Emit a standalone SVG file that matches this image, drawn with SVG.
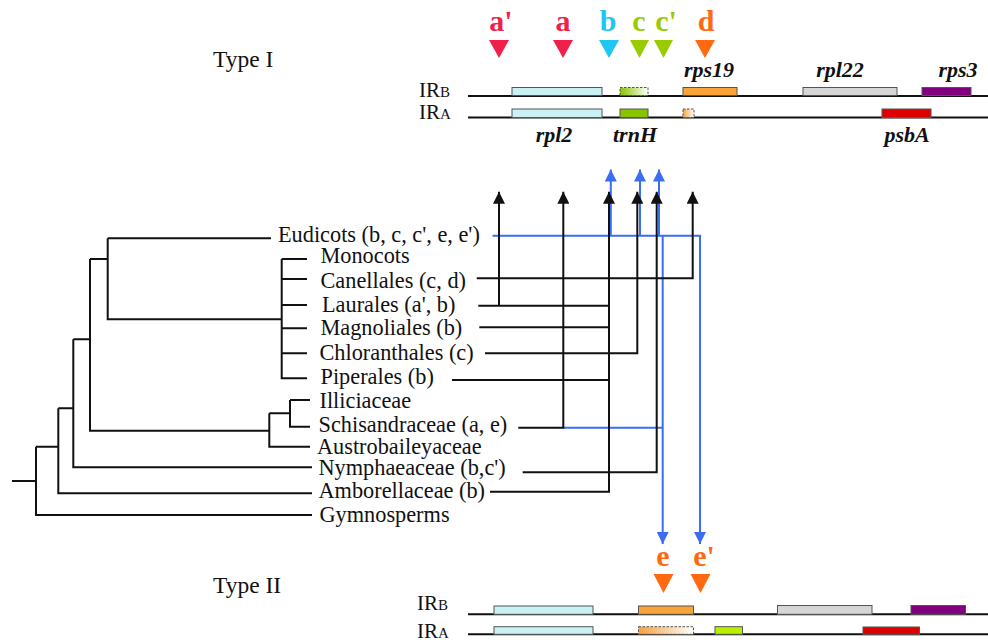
<svg xmlns="http://www.w3.org/2000/svg" width="988" height="643" viewBox="0 0 988 643">
<defs>
<style>
.tx{font-family:"Liberation Serif","Times New Roman",serif;fill:#111;}
.tax{font-size:22.3px;}
.type{font-size:23.5px;}
.gene{font-size:22px;font-weight:bold;font-style:italic;}
.site{font-size:30px;font-weight:bold;text-anchor:middle;font-family:"Liberation Serif","Times New Roman",serif;}
.ir{font-size:21px;}
.irs{font-size:15px;}
.tree{fill:none;stroke:#111;stroke-width:2;}
.bl{fill:none;stroke:#111;stroke-width:2;}
.blue{fill:none;stroke:#3a6cf4;stroke-width:2;}
.axis{stroke:#111;stroke-width:2;}
.box{stroke:#555;stroke-width:1;}
.dash{stroke:#555;stroke-width:1;stroke-dasharray:2.5,1.5;}
</style>
<marker id="ab" markerUnits="userSpaceOnUse" markerWidth="12" markerHeight="12" refX="12" refY="6" orient="auto">
<path d="M0,0 L12,6 L0,12 z" fill="#111"/>
</marker>
<marker id="au" markerUnits="userSpaceOnUse" markerWidth="12" markerHeight="12" refX="12" refY="6" orient="auto">
<path d="M0,0 L12,6 L0,12 z" fill="#3a6cf4"/>
</marker>
<linearGradient id="gG" x1="0" y1="0" x2="1" y2="0">
<stop offset="0" stop-color="#88c400"/><stop offset="1" stop-color="#ffffff"/>
</linearGradient>
<linearGradient id="gO" x1="0" y1="0" x2="1" y2="0">
<stop offset="0" stop-color="#f7a040"/><stop offset="1" stop-color="#ffffff"/>
</linearGradient>
</defs>
<rect width="988" height="643" fill="#fff"/>

<!-- Type I map -->
<g id="type1">
<text class="tx type" x="213" y="67">Type I</text>
<text class="tx" x="419" y="97"><tspan class="ir">IR</tspan><tspan class="irs">B</tspan></text>
<text class="tx" x="419" y="119"><tspan class="ir">IR</tspan><tspan class="irs">A</tspan></text>
<line class="axis" x1="468" y1="96" x2="988" y2="96"/>
<line class="axis" x1="468" y1="117.5" x2="988" y2="117.5"/>
<rect class="box" x="512" y="87.5" width="90" height="8" fill="#c9f0f2"/>
<rect class="dash" x="620" y="87.5" width="28" height="8" fill="url(#gG)"/>
<rect class="box" x="683" y="87.5" width="54" height="8" fill="#f9a43a"/>
<rect class="box" x="803" y="87.5" width="94" height="8" fill="#d6d6d6"/>
<rect class="box" x="922" y="87.5" width="49" height="8" fill="#80007e"/>
<rect class="box" x="512" y="109" width="90" height="8.5" fill="#c9f0f2"/>
<rect class="box" x="620" y="109" width="28" height="8.5" fill="#88c400"/>
<rect class="dash" x="683" y="109" width="11" height="8.5" fill="url(#gO)"/>
<rect class="box" x="882" y="109" width="49" height="8.5" fill="#dd0000"/>
<text class="tx gene" x="709" y="77" text-anchor="middle">rps19</text>
<text class="tx gene" x="840" y="77" text-anchor="middle">rpl22</text>
<text class="tx gene" x="958" y="77" text-anchor="middle">rps3</text>
<text class="tx gene" x="554" y="142" text-anchor="middle">rpl2</text>
<text class="tx gene" x="635" y="142" text-anchor="middle">trnH</text>
<text class="tx gene" x="907" y="142" text-anchor="middle">psbA</text>
</g>

<g id="sites1">
<text class="site" x="501" y="31" fill="#f0204a">a'</text>
<text class="site" x="563" y="31" fill="#f0204a">a</text>
<text class="site" x="608" y="31" fill="#1ec6f2">b</text>
<text class="site" x="639" y="31" fill="#99cc00">c</text>
<text class="site" x="666" y="31" fill="#99cc00">c'</text>
<text class="site" x="706" y="31" fill="#ff6a10">d</text>
<polygon points="489,40 509,40 499,58" fill="#f0204a"/>
<polygon points="553,40 573,40 563,58" fill="#f0204a"/>
<polygon points="599,40 619,40 609,58" fill="#1ec6f2"/>
<polygon points="630,40 649,40 639.5,58" fill="#99cc00"/>
<polygon points="654,40 673,40 663.5,58" fill="#99cc00"/>
<polygon points="695,40 715,40 705,58" fill="#ff6a10"/>
</g>

<!-- Tree -->
<g id="tree">
<path class="tree" d="M12,481 H36 M36,446.7 V515 H312 M36,446.7 H58.3 M58.3,408.3 V493.3 H312 M58.3,408.3 H73.3 M73.3,339.3 V467.3 H312 M73.3,339.3 H90 M90,259 V430.7 H269.3 M269.3,413.3 V446.7 H310 M269.3,413.3 H290 M290,400 V426.7 H310 M290,400 H310 M90,259 H107.7 M107.7,238.3 V319.3 H281.7 M107.7,238.3 H271 M281.7,259 V378.3 H307 M281.7,259 H307 M281.7,279 H307 M281.7,305 H307 M281.7,328.3 H307 M281.7,353.3 H307"/>
</g>
<g id="taxa">
<text class="tx tax" x="278" y="242">Eudicots (b, c, c', e, e')</text>
<text class="tx tax" x="320.5" y="263">Monocots</text>
<text class="tx tax" x="320.5" y="288">Canellales (c, d)</text>
<text class="tx tax" x="322" y="311.5">Laurales (a', b)</text>
<text class="tx tax" x="320.5" y="335">Magnoliales (b)</text>
<text class="tx tax" x="319.5" y="360">Chloranthales (c)</text>
<text class="tx tax" x="320.5" y="384">Piperales (b)</text>
<text class="tx tax" x="319.5" y="408">Illiciaceae</text>
<text class="tx tax" x="318.5" y="431.5">Schisandraceae (a, e)</text>
<text class="tx tax" x="317" y="454">Austrobaileyaceae</text>
<text class="tx tax" x="318.5" y="475">Nymphaeaceae (b,c')</text>
<text class="tx tax" x="318.5" y="498">Amborellaceae (b)</text>
<text class="tx tax" x="319.5" y="521.5">Gymnosperms</text>
</g>

<!-- Connectors -->
<g id="connectors">
<path class="blue" d="M492.5,235.7 H700 V544" marker-end="url(#au)"/>
<path class="blue" d="M662.7,235.7 V544" marker-end="url(#au)"/>
<path class="blue" d="M610.8,235.7 V169.5" marker-end="url(#au)"/>
<path class="blue" d="M640,235.7 V169.5" marker-end="url(#au)"/>
<path class="blue" d="M659,235.7 V169.5" marker-end="url(#au)"/>
<path class="blue" d="M563.3,427.7 H662.7"/>
<path class="bl" d="M476.7,278.3 H692.7 V191.7" marker-end="url(#ab)"/>
<path class="bl" d="M478.3,305.7 H609"/>
<path class="bl" d="M499,305.7 V191.7" marker-end="url(#ab)"/>
<path class="bl" d="M479.3,327.3 H609"/>
<path class="bl" d="M485,353.3 H637.3 V191.7" marker-end="url(#ab)"/>
<path class="bl" d="M452,380 H609"/>
<path class="bl" d="M518.3,427.7 H563.3 V191.7" marker-end="url(#ab)"/>
<path class="bl" d="M522.7,472.3 H656.7 V191.7" marker-end="url(#ab)"/>
<path class="bl" d="M490,491.7 H609 V191.7" marker-end="url(#ab)"/>
</g>

<!-- Type II map -->
<g id="sites2">
<text class="site" x="663" y="566" fill="#ff6a10">e</text>
<text class="site" x="704" y="566" fill="#ff6a10">e'</text>
<polygon points="653.5,574 673.5,574 663.5,593" fill="#ff6a10"/>
<polygon points="690.5,574 710.5,574 700.5,593" fill="#ff6a10"/>
</g>
<g id="type2">
<text class="tx type" x="213" y="593">Type II</text>
<text class="tx" x="417" y="610"><tspan class="ir">IR</tspan><tspan class="irs">B</tspan></text>
<text class="tx" x="417" y="638"><tspan class="ir">IR</tspan><tspan class="irs">A</tspan></text>
<line class="axis" x1="468" y1="614.3" x2="988" y2="614.3"/>
<line class="axis" x1="468" y1="634.3" x2="988" y2="634.3"/>
<rect class="box" x="494" y="606" width="99" height="8.3" fill="#c9f0f2"/>
<rect class="box" x="638.5" y="606" width="55" height="8.3" fill="#f9a43a"/>
<rect class="box" x="777.5" y="605.5" width="94.5" height="8.8" fill="#d6d6d6"/>
<rect class="box" x="911" y="605.5" width="54.5" height="8.8" fill="#80007e"/>
<rect class="box" x="494" y="626.7" width="99" height="7.6" fill="#c9f0f2"/>
<rect class="dash" x="638.5" y="626.7" width="55" height="7.6" fill="url(#gO)"/>
<rect class="box" x="715" y="626.7" width="27.5" height="7.6" fill="#b8f000"/>
<rect class="box" x="863" y="627" width="56.5" height="7.6" fill="#dd0000"/>
</g>
</svg>
